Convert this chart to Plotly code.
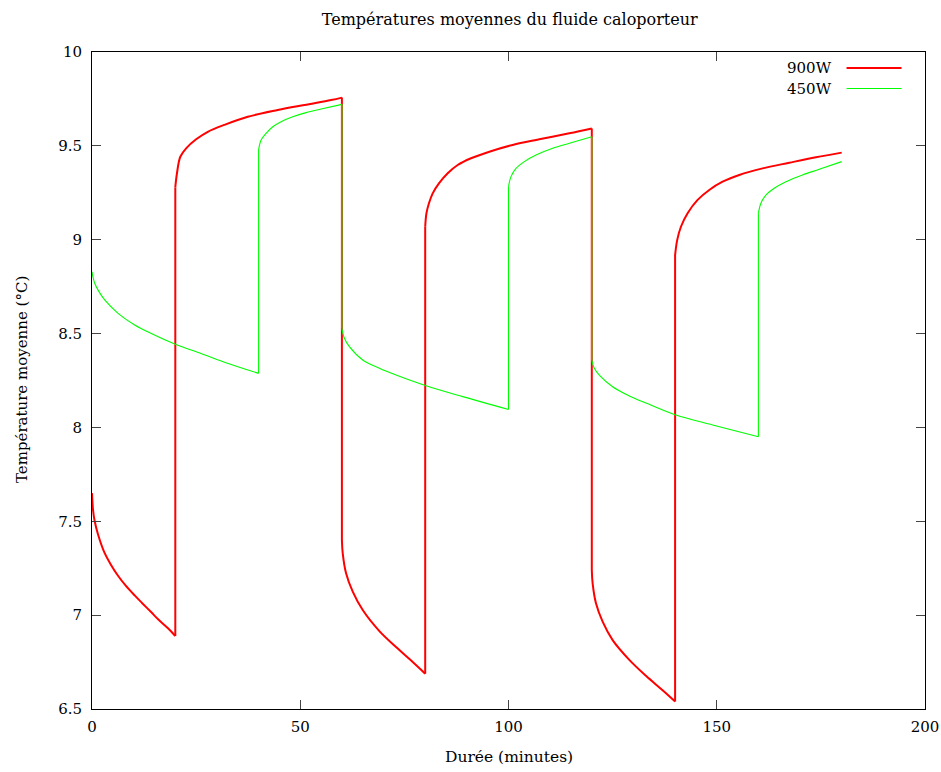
import plotly.graph_objects as go

# 900W series (time in minutes, temperature in °C)
time_900 = [0, 0.25, 0.65, 1.45, 3.05, 4.5, 6.25, 8, 10.25, 12, 14.25, 16, 18.25, 20,
            20, 20.4, 21.2, 22.6, 25, 27.8, 31.8, 37.4, 44.6, 51, 57.4, 60,
            60, 60.2, 61, 62.6, 65, 69, 73, 77, 80,
            80, 80.3, 80.9, 81.8, 83.3, 85.4, 87.8, 91, 95.4, 101, 107.4, 114.6, 120,
            120, 120.2, 121, 122.6, 125, 129, 133, 137, 140,
            140, 140.5, 141.4, 143, 145.4, 148.2, 151.4, 155.4, 161, 167.4, 173.8, 180]
temp_900 = [7.65, 7.56, 7.50, 7.43, 7.33, 7.27, 7.21, 7.16, 7.105, 7.065, 7.015, 6.975, 6.93, 6.889,
            9.28, 9.354, 9.442, 9.487, 9.535, 9.575, 9.612, 9.655, 9.691, 9.718, 9.744, 9.757,
            7.40, 7.329, 7.223, 7.125, 7.027, 6.915, 6.83, 6.75, 6.688,
            9.069, 9.141, 9.194, 9.247, 9.30, 9.354, 9.398, 9.434, 9.469, 9.505, 9.535, 9.567, 9.593,
            7.24, 7.169, 7.063, 6.965, 6.867, 6.762, 6.677, 6.600, 6.540,
            8.918, 8.998, 9.069, 9.141, 9.212, 9.265, 9.309, 9.345, 9.38, 9.41, 9.439, 9.464]

# 450W series
time_450 = [0, 0.25, 0.65, 1.5, 3.05, 6.25, 10.25, 14.25, 20, 26.3, 32.7, 40,
            40, 40.6, 41.8, 43.4, 45.4, 48.2, 51.4, 55, 60,
            60, 60.6, 61.8, 65, 69, 73, 80.2, 89, 100,
            100, 100.6, 101.8, 103.8, 106.6, 110.6, 114.6, 120,
            120, 120.6, 121.8, 125, 129, 133, 140.2, 149, 160,
            160, 160.6, 161.8, 163.8, 166.6, 170.6, 174.6, 180]
temp_450 = [8.83, 8.80, 8.768, 8.73, 8.679, 8.608, 8.546, 8.50, 8.443, 8.393, 8.341, 8.288,
            9.478, 9.531, 9.567, 9.602, 9.629, 9.655, 9.677, 9.696, 9.721,
            8.528, 8.475, 8.43, 8.359, 8.315, 8.279, 8.222, 8.164, 8.096,
            9.282, 9.336, 9.38, 9.416, 9.451, 9.487, 9.514, 9.549,
            8.359, 8.315, 8.279, 8.217, 8.168, 8.13, 8.066, 8.013, 7.95,
            9.141, 9.194, 9.238, 9.274, 9.309, 9.345, 9.375, 9.416]

series_names = ["900W", "450W"]
x_ticks = [0, 50, 100, 150, 200]
y_ticks = [6.5, 7, 7.5, 8, 8.5, 9, 9.5, 10]
y_tick_labels = ["6.5", "7", "7.5", "8", "8.5", "9", "9.5", "10"]

FONT = "DejaVu Serif"
RED = "#ff0000"
GREEN = "#00ff00"

# plot area in page pixels (body margin removed by post_script)
W, H = 941, 772
PL, PT, PR, PB = 92, 52, 925.5, 709
L, T, R, B = PL, PT, W - PR, H - PB
pw, ph = PR - PL, PB - PT


def px_x(p):
    return (p - PL) / pw


def px_y(p):
    return (PB - p) / ph


def pieces(ts, vs):
    """Split a series into smooth runs and the vertical jumps between them."""
    cuts = [i for i in range(1, len(ts)) if ts[i] == ts[i - 1]]
    starts = [0] + cuts
    ends = [c - 1 for c in cuts] + [len(ts) - 1]
    runs = [(ts[s:e + 1], vs[s:e + 1]) for s, e in zip(starts, ends)]
    jumps = [(ts[c - 1:c + 1], vs[c - 1:c + 1]) for c in cuts]
    return runs, jumps


fig = go.Figure()
for ts, vs, name, color, width in [(time_900, temp_900, series_names[0], RED, 2),
                                   (time_450, temp_450, series_names[1], GREEN, 1.1)]:
    runs, jumps = pieces(ts, vs)
    for sx, sy in runs:
        fig.add_trace(go.Scatter(x=sx, y=sy, mode="lines", name=name, legendgroup=name,
                                 line=dict(color=color, width=width, shape="spline", smoothing=1),
                                 showlegend=False, hoverinfo="skip"))
    for sx, sy in jumps:
        fig.add_trace(go.Scatter(x=sx, y=sy, mode="lines", name=name, legendgroup=name,
                                 line=dict(color=color, width=width),
                                 showlegend=False, hoverinfo="skip"))

# legend drawn gnuplot-style: text left of sample line
for name, color, width, ypx in [(series_names[0], RED, 2, 68), (series_names[1], GREEN, 1.1, 88.5)]:
    fig.add_annotation(x=px_x(834), y=px_y(ypx), xref="paper", yref="paper", text=name,
                       showarrow=False, xanchor="right", yanchor="middle",
                       font=dict(family=FONT, size=15, color="black"))
    fig.add_shape(type="line", xref="paper", yref="paper",
                  x0=px_x(847), x1=px_x(902), y0=px_y(ypx), y1=px_y(ypx),
                  line=dict(color=color, width=width))

# axis titles as annotations for exact placement
fig.add_annotation(x=px_x(22), y=px_y(380), xref="paper", yref="paper",
                   text="Température moyenne (°C)", textangle=-90, showarrow=False,
                   xanchor="center", yanchor="middle",
                   font=dict(family=FONT, size=15, color="black"))
fig.add_annotation(x=px_x(509), y=px_y(757), xref="paper", yref="paper",
                   text="Durée (minutes)", showarrow=False,
                   xanchor="center", yanchor="middle",
                   font=dict(family=FONT, size=15.5, color="black"))

axis_common = dict(showline=True, mirror="ticks", linecolor="black", linewidth=1,
                   ticks="inside", ticklen=9, tickcolor="#444", tickwidth=1,
                   showgrid=False, zeroline=False, automargin=False,
                   tickfont=dict(family=FONT, size=15, color="black"))

fig.update_layout(
    width=W, height=H,
    margin=dict(l=L, r=R, t=T, b=B, autoexpand=False),
    paper_bgcolor="white", plot_bgcolor="white",
    hovermode=False,
    title=dict(text="Températures moyennes du fluide caloporteur", x=px_x(510), xref="paper",
               xanchor="center", y=1 - 19 / H, yanchor="middle",
               font=dict(family=FONT, size=16, color="black")),
    xaxis=dict(range=[0, 200], tickvals=x_ticks, ticktext=[str(v) for v in x_ticks],
               ticklabelstandoff=4, **axis_common),
    yaxis=dict(range=[6.5, 10], tickvals=y_ticks, ticktext=y_tick_labels,
               ticklabelstandoff=6, **axis_common),
)

fig.write_html("out.html", config={"displayModeBar": False},
               post_script="document.body.style.margin='0';document.body.style.overflow='hidden';")
